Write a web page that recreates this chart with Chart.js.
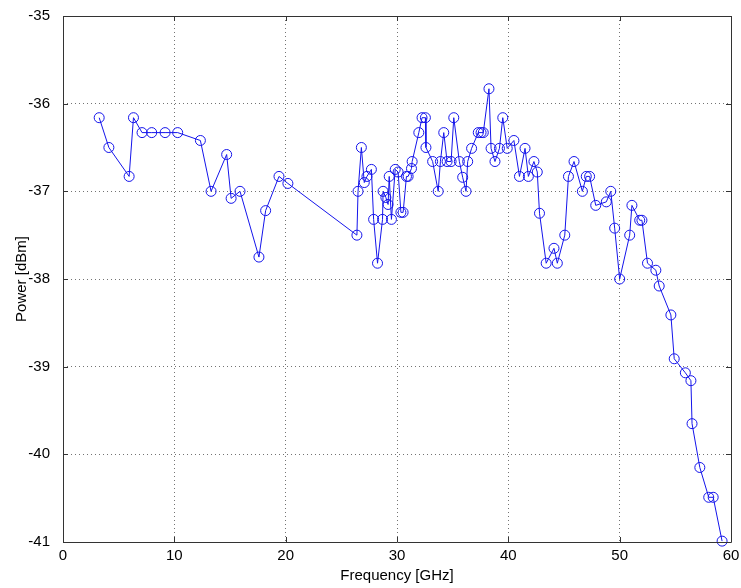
<!DOCTYPE html>
<html>
<head>
<meta charset="utf-8">
<script src="https://cdn.jsdelivr.net/npm/chart.js@4"></script>
<style>
    html, body { margin: 0; padding: 0; background: #fff; }
    #wrap { width: 741px; height: 588px; }
</style>
</head>
<body>
<div id="wrap"><canvas id="chart" width="741" height="588"></canvas></div>
<script>
// values
const freqGHz = [
    3.25, 4.12, 5.94, 6.33, 7.1, 7.97, 9.17, 10.3, 12.34, 13.3,
    14.7, 15.1, 15.9, 17.6, 18.2, 19.4, 20.2, 26.4, 26.5, 26.8,
    27.06, 27.3, 27.7, 27.9, 28.25, 28.7, 28.75, 29.0, 29.2, 29.3,
    29.5, 29.84, 30.1, 30.35, 30.55, 30.85, 31.0, 31.3, 31.36, 31.96,
    32.25, 32.55, 32.6, 33.2, 33.7, 33.9, 34.2, 34.5, 34.86, 35.1,
    35.6, 35.9, 36.2, 36.35, 36.7, 37.3, 37.55, 37.75, 38.26, 38.45,
    38.8, 39.2, 39.5, 39.9, 40.5, 41.0, 41.5, 41.8, 42.3, 42.6,
    42.8, 43.4, 44.1, 44.4, 45.07, 45.4, 45.9, 46.65, 47.0, 47.3,
    47.85, 48.8, 49.2, 49.55, 50.0, 50.9, 51.1, 51.8, 52.0, 52.5,
    53.25, 53.55, 54.6, 54.9, 55.9, 56.4, 56.5, 57.2, 58.0, 58.4,
    59.2
];
const powerDbm = [
    -36.16, -36.50, -36.83, -36.16, -36.33, -36.33, -36.33, -36.33, -36.42, -37.0,
    -36.58, -37.08, -37.0, -37.75, -37.22, -36.83, -36.91, -37.5, -37.0, -36.5,
    -36.9, -36.83, -36.75, -37.32, -37.82, -37.32, -37.0, -37.07, -37.15, -36.83,
    -37.32, -36.75, -36.78, -37.24, -37.24, -36.83, -36.83, -36.74, -36.66, -36.33,
    -36.16, -36.16, -36.5, -36.66, -37.0, -36.66, -36.33, -36.66, -36.66, -36.16,
    -36.66, -36.84, -37.0, -36.66, -36.51, -36.33, -36.33, -36.33, -35.83, -36.51,
    -36.66, -36.51, -36.16, -36.51, -36.42, -36.83, -36.51, -36.83, -36.66, -36.78,
    -37.25, -37.82, -37.65, -37.82, -37.5, -36.83, -36.66, -37.0, -36.83, -36.83,
    -37.16, -37.12, -37.0, -37.42, -38.0, -37.5, -37.16, -37.33, -37.33, -37.82,
    -37.9, -38.08, -38.41, -38.91, -39.07, -39.16, -39.65, -40.15, -40.49, -40.49,
    -40.99
];
const xTicks = [0, 10, 20, 30, 40, 50, 60];
const yTicks = [-41, -40, -39, -38, -37, -36, -35];

const FONT = 'Arial, "Liberation Sans", Helvetica, sans-serif';
const AXIS_COLOR = '#333';

// matlab style box with inward ticks
const boxPlugin = {
    id: 'boxPlugin',
    afterDraw(chart) {
        const { ctx, chartArea: a, scales } = chart;
        const len = 5;
        ctx.save();
        ctx.strokeStyle = AXIS_COLOR;
        ctx.lineWidth = 1;
        ctx.beginPath();
        ctx.rect(Math.round(a.left) + 0.5, Math.round(a.top) + 0.5,
            Math.round(a.right - a.left), Math.round(a.bottom - a.top));
        xTicks.forEach(v => {
            const x = Math.round(scales.x.getPixelForValue(v)) + 0.5;
            ctx.moveTo(x, a.bottom); ctx.lineTo(x, a.bottom - len);
            ctx.moveTo(x, a.top); ctx.lineTo(x, a.top + len);
        });
        yTicks.forEach(v => {
            const y = Math.round(scales.y.getPixelForValue(v)) + 0.5;
            ctx.moveTo(a.left, y); ctx.lineTo(a.left + len, y);
            ctx.moveTo(a.right, y); ctx.lineTo(a.right - len, y);
        });
        ctx.stroke();
        ctx.restore();
    }
};

// keep the plot box where the reference has it (no label overhang padding)
function fixBox(size, key) {
    return s => {
        s[key] = size;
        s.paddingTop = 0; s.paddingBottom = 0;
        s.paddingLeft = 0; s.paddingRight = 0;
    };
}

const gridOpts = {
    color: 'rgba(0,0,0,0.55)',
    lineWidth: 1,
    drawTicks: false
};

new Chart(document.getElementById('chart'), {
    type: 'scatter',
    data: {
        datasets: [{
            data: freqGHz.map((f, i) => ({ x: f, y: powerDbm[i] })),
            showLine: true,
            borderColor: 'rgb(20,20,235)',
            borderWidth: 1,
            pointStyle: 'circle',
            pointRadius: 5,
            pointBorderWidth: 1,
            pointBorderColor: 'rgb(20,20,235)',
            pointBackgroundColor: 'rgba(0,0,0,0)',
            clip: false
        }]
    },
    options: {
        responsive: false,
        animation: false,
        events: [],
        layout: { autoPadding: false, padding: { top: 16, right: 10, left: 0, bottom: 0 } },
        plugins: {
            legend: { display: false },
            tooltip: { enabled: false }
        },
        scales: {
            x: {
                type: 'linear',
                min: 0,
                max: 60,
                afterBuildTicks: s => { s.ticks = xTicks.map(v => ({ value: v })); },
                afterFit: fixBox(46, 'height'),
                grid: gridOpts,
                border: { display: false, dash: [1, 3] },
                ticks: { color: '#000', padding: 5, font: { family: FONT, size: 15 } },
                title: {
                    display: true,
                    text: 'Frequency [GHz]',
                    color: '#000',
                    font: { family: FONT, size: 15 },
                    padding: { top: 0, bottom: 3 }
                }
            },
            y: {
                type: 'linear',
                min: -41,
                max: -35,
                afterBuildTicks: s => { s.ticks = yTicks.map(v => ({ value: v })); },
                afterFit: fixBox(63, 'width'),
                grid: gridOpts,
                border: { display: false, dash: [1, 3] },
                ticks: { color: '#000', padding: 13, font: { family: FONT, size: 15 } },
                title: {
                    display: true,
                    text: 'Power [dBm]',
                    color: '#000',
                    font: { family: FONT, size: 15 },
                    padding: { top: 13, bottom: 0 }
                }
            }
        }
    },
    plugins: [boxPlugin]
});
</script>
</body>
</html>
